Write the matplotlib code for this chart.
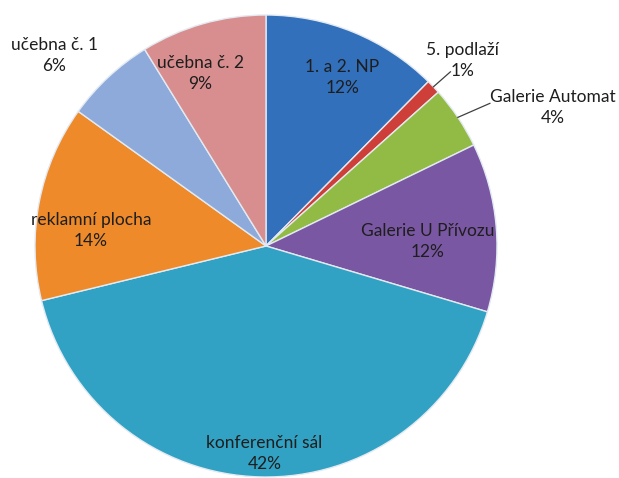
import numpy as np
import matplotlib
matplotlib.use("Agg")
import matplotlib.pyplot as plt

labels = ["1. a 2. NP", "5. podlaží", "Galerie Automat", "Galerie U Přívozu",
          "konferenční sál", "reklamní plocha", "učebna č. 1", "učebna č. 2"]
values = [12.4, 1.0, 4.4, 11.8, 41.6, 13.7, 6.3, 8.8]
pct_text = ["12%", "1%", "4%", "12%", "42%", "14%", "6%", "9%"]
colors = ["#3270BC", "#CF3F3A", "#92BB45", "#7A57A3",
          "#31A2C3", "#EE8A2A", "#8DAADB", "#D88E8E"]

W, H = 619, 478
fig = plt.figure(figsize=(W / 100, H / 100), dpi=100)
ax = fig.add_axes([0, 0, 1, 1])

cx, cy, R = 266, H - 246, 231
wedges, _ = ax.pie(values, colors=colors, startangle=90, counterclock=False,
                   center=(cx, cy), radius=R, frame=True,
                   wedgeprops=dict(edgecolor="#e3eaf2", linewidth=1.0))
ax.set_xlim(0, W)
ax.set_ylim(0, H)
ax.set_aspect("equal")
ax.axis("off")

font = dict(family=["Lato", "DejaVu Sans"], fontsize=12.5, color="#1e1e1e",
            ha="center", va="center", linespacing=1.38)

# inside labels: (index, radius factor, angle offset in degrees)
inside = {0: (0.80, -2), 3: (0.70, -3), 4: (0.90, 1), 5: (0.76, 6), 7: (0.80, 5)}
for i, w in enumerate(wedges):
    mid = np.deg2rad((w.theta1 + w.theta2) / 2)
    if i in inside:
        f, off = inside[i]
        a = mid + np.deg2rad(off)
        x = cx + f * R * np.cos(a)
        y = cy + f * R * np.sin(a)
        ax.text(x, y, f"{labels[i]}\n{pct_text[i]}", **font)

# outside labels with leader lines (offsets in px from wedge edge)
outside = {1: ((17, 15), (29, 26), True),
           2: ((32, 14), (95, 10), True),
           6: ((0, 0), (-54, 22), False)}
for i, (lend, toff, line) in outside.items():
    w = wedges[i]
    mid = np.deg2rad((w.theta1 + w.theta2) / 2)
    ex = cx + R * np.cos(mid)
    ey = cy + R * np.sin(mid)
    if line:
        ax.plot([ex, ex + lend[0]], [ey, ey + lend[1]], color="#404040", lw=0.9)
    ax.text(ex + toff[0], ey + toff[1], f"{labels[i]}\n{pct_text[i]}", **font)

fig.savefig("out.png", dpi=100)
